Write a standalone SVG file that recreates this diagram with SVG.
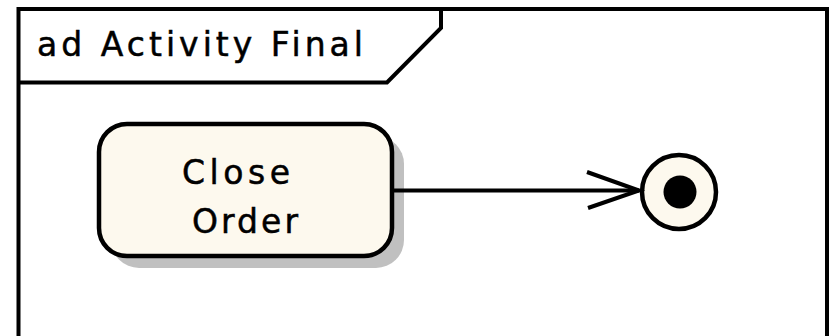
<svg xmlns="http://www.w3.org/2000/svg" width="829" height="336" viewBox="0 0 829 336">
  <style>
    .ln { fill: none; stroke: #000; stroke-width: 4; }
    .txt { font-family: "DejaVu Sans", "Liberation Sans", sans-serif; font-size: 33px; fill: #000; stroke: #000; stroke-width: 0.5; }
    .fill { fill: #fdf9ee; }
  </style>
  <rect x="0" y="0" width="829" height="336" fill="#fff"/>
  <g id="frame">
    <polyline class="ln" points="18.5,336 18.5,9 827,9 827,336" stroke-width="5"/>
    <polyline class="ln" points="18.5,82.5 387,82.5 441,28 441,9"/>
    <text class="txt" x="37" y="56" textLength="326" lengthAdjust="spacing">ad Activity Final</text>
  </g>
  <g id="node-close-order">
    <rect x="111" y="136" width="293" height="132" rx="28" fill="#c0c0c0"/>
    <rect class="fill" x="99" y="124" width="293" height="132" rx="28" stroke="#000" stroke-width="4.5"/>
    <text class="txt" x="182" y="184" textLength="108" lengthAdjust="spacing">Close</text>
    <text class="txt" x="192" y="233" textLength="106" lengthAdjust="spacing">Order</text>
  </g>
  <g id="final-node">
    <circle class="fill" cx="679" cy="192" r="37" stroke="#000" stroke-width="4.5"/>
    <circle cx="680" cy="192" r="16.5" fill="#000"/>
  </g>
  <g id="connectors">
    <line class="ln" x1="394" y1="190.5" x2="639" y2="190.5"/>
    <polyline class="ln" stroke-width="3.5" points="587,172 639,190.5 588,208"/>
  </g>
</svg>
